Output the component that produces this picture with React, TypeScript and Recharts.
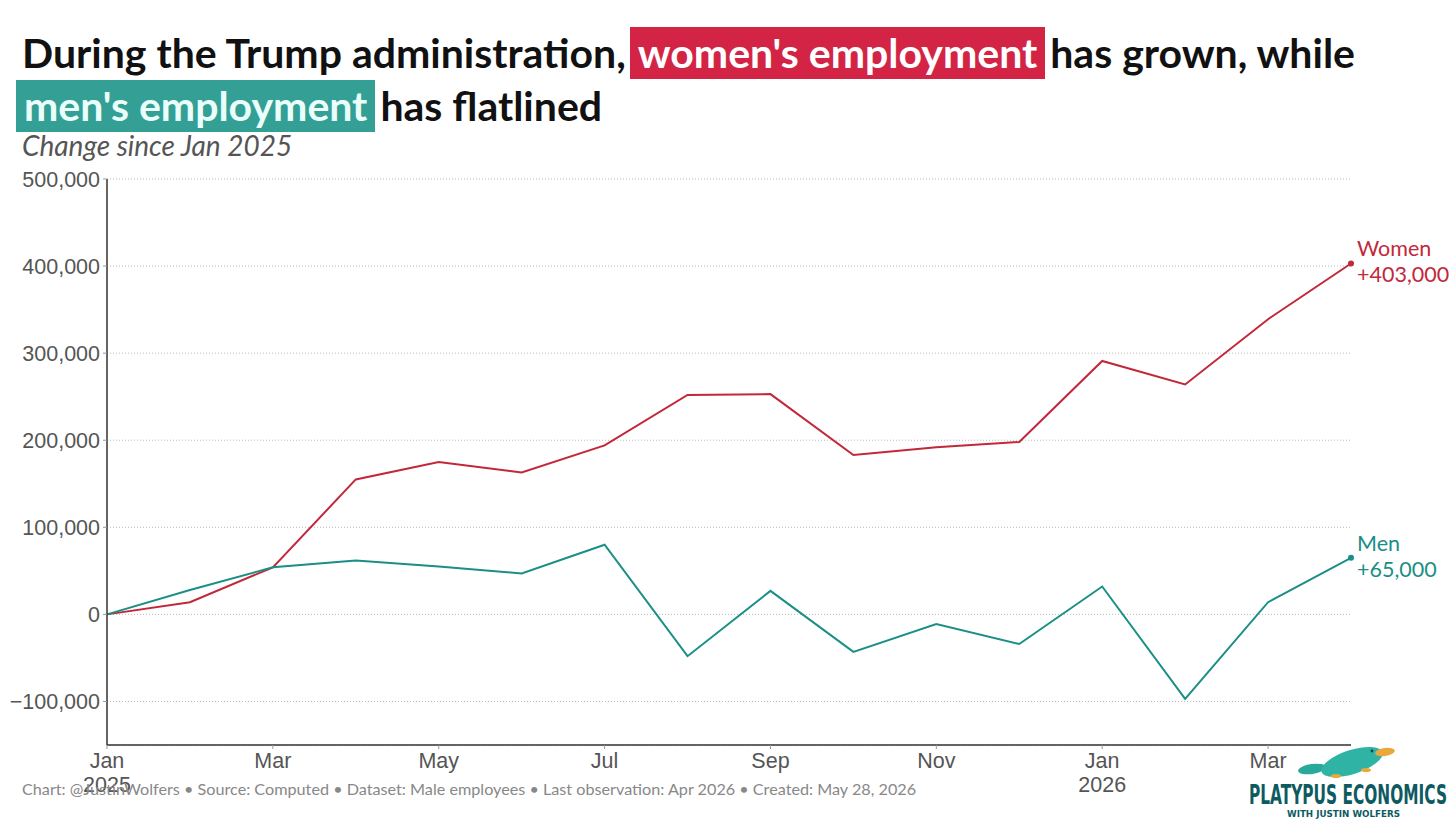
import React from "react";
import { LineChart, Line, XAxis, YAxis, CartesianGrid } from "recharts";

// months since Jan 2025 (Jan 2025 .. Apr 2026)
const monthIndex = [0, 1, 2, 3, 4, 5, 6, 7, 8, 9, 10, 11, 12, 13, 14, 15];
const womenChange = [0, 14000, 54000, 155000, 175000, 163000, 194000, 252000, 253000, 183000, 192000, 198000, 291000, 264000, 339000, 403000];
const menChange = [0, 28000, 54000, 62000, 55000, 47000, 80000, -48000, 27000, -43000, -11000, -34000, 32000, -97000, 14000, 65000];

const xTicks = [0, 2, 4, 6, 8, 10, 12, 14];
const xTickLabels = ["Jan", "Mar", "May", "Jul", "Sep", "Nov", "Jan", "Mar"];
const xTickYears: Record<number, string> = { 0: "2025", 12: "2026" };
const yTicks = [-100000, 0, 100000, 200000, 300000, 400000, 500000];

const WOMEN = "#c2283a";
const MEN = "#1a8f86";
const LATO = "Lato, 'Noto Sans', sans-serif";
const AXIS_FONT = "'Liberation Sans', Arial, sans-serif";

const data = monthIndex.map((i, k) => ({ i, women: womenChange[k], men: menChange[k] }));

const fmt = (v: number) => (v < 0 ? "\u2212" : "") + Math.abs(v).toLocaleString("en-US");

const XTick = (props: any) => {
  const { x, y, payload } = props;
  const k = xTicks.indexOf(payload.value);
  const year = xTickYears[payload.value];
  return (
    <g>
      <text x={x} y={y + 17} textAnchor="middle" fontFamily={AXIS_FONT} fontSize={21.5} fill="#555">
        {xTickLabels[k]}
      </text>
      {year && (
        <text x={x} y={y + 41} textAnchor="middle" fontFamily={AXIS_FONT} fontSize={21.5} fill="#555">
          {year}
        </text>
      )}
    </g>
  );
};

// dot + label only at the last observation
const endDot = (name: string, color: string, key: "women" | "men") => (props: any) => {
  const { cx, cy, index } = props;
  if (index !== data.length - 1) return <g key={`d-${index}`} />;
  const v = data[index][key];
  return (
    <g key={`d-${index}`}>
      <circle cx={cx} cy={cy} r={3} fill={color} />
      <text x={cx + 6} y={cy - 7} fontFamily={LATO} fontSize={21.5} fill={color}>
        {name}
      </text>
      <text x={cx + 6} y={cy + 19} fontFamily={LATO} fontSize={21.5} fill={color}>
        {"+" + v.toLocaleString("en-US")}
      </text>
    </g>
  );
};

const hl = (bg: string, fg: string): React.CSSProperties => ({
  background: bg,
  color: fg,
  padding: "0 8px",
  display: "inline-block",
  lineHeight: "52px",
});

export default function App() {
  return (
    <div style={{ position: "absolute", left: 0, top: 0, width: 1456, height: 819, background: "#fff", overflow: "hidden" }}>
      <div style={{ position: "absolute", left: 22, top: 27, fontFamily: LATO, fontWeight: 700, fontSize: 41, color: "#111", whiteSpace: "nowrap", lineHeight: "52px" }}>
        During the Trump administration,<span style={{ ...hl("#d42446", "#fff"), marginLeft: 4, marginRight: 5 }}>women's employment</span>has grown, while
      </div>
      <div style={{ position: "absolute", left: 16, top: 80, fontFamily: LATO, fontWeight: 700, fontSize: 41, color: "#111", whiteSpace: "nowrap", lineHeight: "52px" }}>
        <span style={{ ...hl("#34a095", "#eafffb"), marginRight: 5 }}>men's employment</span>has flatlined
      </div>
      <div style={{ position: "absolute", left: 22, top: 128, fontFamily: LATO, fontStyle: "italic", fontSize: 28, color: "#555" }}>
        Change since Jan 2025
      </div>

      <div style={{ position: "absolute", left: 0, top: 0 }}>
        <LineChart width={1456} height={819} data={data} margin={{ top: 179, right: 105, bottom: 24, left: 0 }}>
          <CartesianGrid vertical={false} stroke="#bbb" strokeDasharray="1 2" />
          <XAxis
            dataKey="i"
            type="number"
            domain={[0, 15]}
            ticks={xTicks}
            height={50}
            tick={<XTick />}
            tickSize={4}
            axisLine={{ stroke: "#333", strokeWidth: 1.5 }}
            tickLine={{ stroke: "#999" }}
            interval={0}
          />
          <YAxis
            type="number"
            domain={[-150000, 500000]}
            ticks={yTicks}
            width={107}
            tickFormatter={fmt}
            tick={{ fill: "#555", fontSize: 21.5, fontFamily: AXIS_FONT }}
            tickSize={4}
            tickMargin={3}
            axisLine={{ stroke: "#333", strokeWidth: 1.5 }}
            tickLine={{ stroke: "#999" }}
            interval={0}
          />
          <Line type="linear" dataKey="women" stroke={WOMEN} strokeWidth={2} dot={endDot("Women", WOMEN, "women")} activeDot={false} isAnimationActive={false} />
          <Line type="linear" dataKey="men" stroke={MEN} strokeWidth={2} dot={endDot("Men", MEN, "men")} activeDot={false} isAnimationActive={false} />
        </LineChart>
      </div>

      <div style={{ position: "absolute", left: 22, top: 779, fontFamily: LATO, fontSize: 16.2, color: "#888", whiteSpace: "nowrap" }}>
        Chart: @JustinWolfers • Source: Computed • Dataset: Male employees • Last observation: Apr 2026 • Created: May 28, 2026
      </div>

      <svg style={{ position: "absolute", left: 1240, top: 740 }} width={216} height={79}>
        <ellipse cx={72} cy={29} rx={14} ry={5} fill="#2aa89b" transform="rotate(-8 72 29)" />
        <ellipse cx={112} cy={22} rx={32} ry={12} fill="#2fb3a5" transform="rotate(-18 112 22)" />
        <ellipse cx={145} cy={12} rx={10} ry={4} fill="#e9a93a" transform="rotate(-8 145 12)" />
        <ellipse cx={96} cy={36} rx={5} ry={2} fill="#e9a93a" />
        <ellipse cx={126} cy={30} rx={5} ry={2} fill="#e9a93a" />
        <circle cx={132} cy={11} r={1.4} fill="#0e3e44" />
        <text x={9} y={64} fontFamily="'DejaVu Sans Condensed', 'DejaVu Sans', sans-serif" fontWeight={700} fontSize={26} fill="#0e5a61" textLength={198} lengthAdjust="spacingAndGlyphs">
          PLATYPUS ECONOMICS
        </text>
        <text x={47} y={77} fontFamily="'DejaVu Sans', sans-serif" fontWeight={700} fontSize={8.5} fill="#0e5a61" textLength={113} lengthAdjust="spacingAndGlyphs">
          WITH JUSTIN WOLFERS
        </text>
      </svg>
    </div>
  );
}
